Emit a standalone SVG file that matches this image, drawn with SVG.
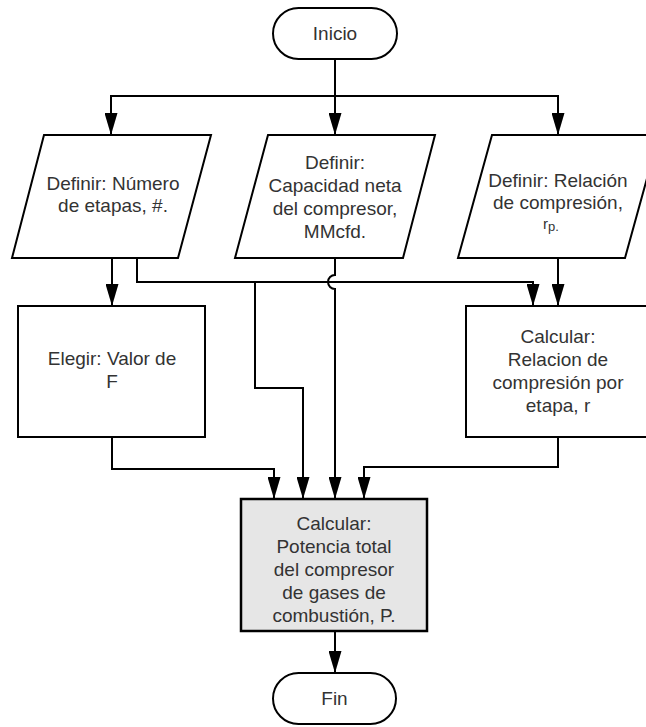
<svg xmlns="http://www.w3.org/2000/svg" width="646" height="727" viewBox="0 0 646 727">
  <style>
    .shape { fill: #ffffff; stroke: #000000; stroke-width: 2; }
    .calc { fill: #e6e6e6; stroke: #000000; stroke-width: 2.5; }
    .label { font-family: "Liberation Sans", Arial, sans-serif; font-size: 19px; fill: #333333; text-anchor: middle; }
    .small-r { font-size: 15px; }
    .small-p { font-size: 13px; }
    .wire { fill: none; stroke: #000000; stroke-width: 2; }
  </style>
  <defs>
    <marker id="arrow" viewBox="0 0 22 13" refX="22" refY="6.5" markerWidth="22" markerHeight="13" markerUnits="userSpaceOnUse" orient="auto">
      <path d="M0,0 L22,6.5 L0,13 Z" fill="#000000"/>
    </marker>
  </defs>

  <rect width="646" height="727" fill="#ffffff"/>

  <!-- connectors -->
  <g id="connectors">
    <path class="wire" d="M335,59 V135" marker-end="url(#arrow)"/>
    <path class="wire" d="M335,96 H111 V135" marker-end="url(#arrow)"/>
    <path class="wire" d="M335,96 H558 V135" marker-end="url(#arrow)"/>
    <path class="wire" d="M112,258 V306" marker-end="url(#arrow)"/>
    <path class="wire" d="M137,258 V282 H533 V306" marker-end="url(#arrow)"/>
    <path class="wire" d="M255,282 V388 H303 V499" marker-end="url(#arrow)"/>
    <!-- line hop where the capacity line crosses the stage-count line -->
    <path class="wire" d="M335,258 V275 A7,7 0 0 0 335,289 V499" marker-end="url(#arrow)"/>
    <path class="wire" d="M558,258 V306" marker-end="url(#arrow)"/>
    <path class="wire" d="M112,437 V469 H274 V499" marker-end="url(#arrow)"/>
    <path class="wire" d="M558,437 V467 H364 V499" marker-end="url(#arrow)"/>
    <path class="wire" d="M335,631 V673" marker-end="url(#arrow)"/>
  </g>

  <g id="inicio">
    <rect class="shape" x="273" y="8" width="124" height="51" rx="25.5"/>
    <text class="label" x="335" y="40">Inicio</text>
  </g>

  <g id="definir-etapas">
    <polygon class="shape" points="44,135 211,135 178,258 12,258"/>
    <text class="label" x="113" y="189.5">Definir: Número</text>
    <text class="label" x="113" y="212">de etapas, #.</text>
  </g>

  <g id="definir-capacidad">
    <polygon class="shape" points="268,135 435,135 403,258 235,258"/>
    <text class="label" x="335" y="168.5">Definir:</text>
    <text class="label" x="335" y="191.5">Capacidad neta</text>
    <text class="label" x="335" y="214.5">del compresor,</text>
    <text class="label" x="335" y="238">MMcfd.</text>
  </g>

  <g id="definir-relacion">
    <polygon class="shape" points="492,135 659,135 625,258 458,258"/>
    <text class="label" x="558" y="186.5">Definir: Relación</text>
    <text class="label" x="558" y="209">de compresión,</text>
    <text class="label" x="551" y="229"><tspan class="small-r">r</tspan><tspan class="small-p" dy="1.5">p.</tspan></text>
  </g>

  <g id="elegir-f">
    <rect class="shape" x="18" y="306" width="187" height="131"/>
    <text class="label" x="112" y="364.5">Elegir: Valor de</text>
    <text class="label" x="112" y="387.5">F</text>
  </g>

  <g id="calcular-r">
    <rect class="shape" x="466" y="306" width="186" height="131"/>
    <text class="label" x="558" y="342.5">Calcular:</text>
    <text class="label" x="558" y="365.5">Relacion de</text>
    <text class="label" x="558" y="388.5">compresión por</text>
    <text class="label" x="558" y="411.5">etapa, r</text>
  </g>

  <g id="calcular-potencia">
    <rect class="calc" x="241" y="499" width="186" height="132"/>
    <text class="label" x="334" y="529.5">Calcular:</text>
    <text class="label" x="334" y="552.5">Potencia total</text>
    <text class="label" x="334" y="575.5">del compresor</text>
    <text class="label" x="334" y="598.5">de gases de</text>
    <text class="label" x="334" y="621.5">combustión, P.</text>
  </g>

  <g id="fin">
    <rect class="shape" x="273" y="673" width="123" height="51" rx="25.5"/>
    <text class="label" x="334.5" y="705">Fin</text>
  </g>
</svg>
